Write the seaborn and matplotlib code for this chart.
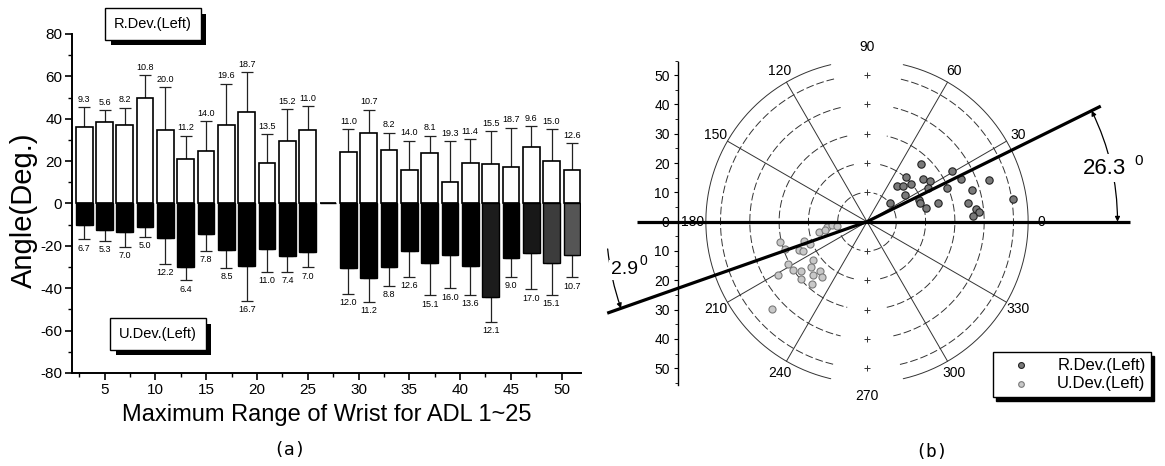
import numpy as np
import pandas as pd
import matplotlib
matplotlib.use("Agg")
import matplotlib.pyplot as plt
import matplotlib.patheffects as pe
from matplotlib.patches import FancyArrowPatch
import seaborn as sns

# ---------------- data: panel (a) ----------------
adl_x = [3, 5, 7, 9, 11, 13, 15, 17, 19, 21, 23, 25, 27,
         29, 31, 33, 35, 37, 39, 41, 43, 45, 47, 49, 51]
r_dev_mean = [36.2, 38.4, 37.1, 49.9, 34.8, 20.8, 24.9, 37.0, 43.3, 19.2, 29.3, 34.9, 0.0,
              24.1, 33.5, 25.3, 15.6, 23.9, 10.2, 19.0, 18.7, 17.1, 26.9, 20.2, 15.9]
r_dev_sd = [9.3, 5.6, 8.2, 10.8, 20.0, 11.2, 14.0, 19.6, 18.7, 13.5, 15.2, 11.0, np.nan,
            11.0, 10.7, 8.2, 14.0, 8.1, 19.3, 11.4, 15.5, 18.7, 9.6, 15.0, 12.6]
u_dev_mean = [-10.2, -12.4, -13.4, -10.9, -16.4, -29.9, -14.5, -22.0, -29.3, -21.4, -24.7, -23.1, 0.0,
              -30.5, -35.1, -30.0, -22.2, -28.3, -24.1, -29.7, -43.9, -25.8, -23.5, -28.0, -24.2]
u_dev_sd = [6.7, 5.3, 7.0, 5.0, 12.2, 6.4, 7.8, 8.5, 16.7, 11.0, 7.4, 7.0, np.nan,
            12.0, 11.2, 8.8, 12.6, 15.1, 16.0, 13.6, 12.1, 9.0, 17.0, 15.1, 10.7]
u_bar_colors = ['black'] * 20 + ['#1c1c1c', 'black', '#181818', '#3c3c3c', '#555555']
x_ticks = [5, 10, 15, 20, 25, 30, 35, 40, 45, 50]
y_ticks = [-80, -60, -40, -20, 0, 20, 40, 60, 80]

# ---------------- data: panel (b) ----------------
r_pts_angle = [46.9, 49.0, 50.4, 45.0, 40.5, 34.9, 38.2, 36.9, 32.7, 29.1, 22.8, 19.7,
               12.8, 14.9, 23.0, 30.8, 24.5, 16.9, 10.7, 6.9, 4.9, 3.0, 18.9, 8.7]
r_pts_radius = [27.2, 20.4, 15.8, 17.3, 19.7, 15.7, 10.2, 24.1, 25.5, 24.0, 19.3, 19.3,
                20.8, 24.9, 29.7, 33.8, 35.2, 37.4, 35.1, 37.4, 38.5, 36.3, 43.9, 50.3]
u_pts_angle = [191.8, 193.0, 198.6, 196.9, 201.3, 202.8, 204.2, 215.6, 219.0, 208.2, 213.2, 216.7,
               221.1, 224.5, 226.7, 230.9, 228.7, 210.8, 222.7, 187.0, 185.2, 188.3, 191.1]
u_pts_radius = [16.7, 30.3, 29.5, 22.4, 20.9, 25.1, 24.1, 22.5, 24.5, 30.5, 30.1, 28.1,
                30.0, 26.0, 23.3, 24.5, 28.3, 35.5, 44.1, 13.9, 12.1, 10.4, 14.6]
mean_angles = [26.3, 199.4]
mean_lengths = [89, 94]
mean_labels = ['26.3', '2.9']
grid_radii = [10, 20, 30, 40, 50]
outer_radius = 55
spoke_angles = [30, 60, 120, 150, 210, 240, 300, 330]
angle_labels = [0, 30, 60, 90, 120, 150, 180, 210, 240, 270, 300, 330]
polar_y_ticks = [-50, -40, -30, -20, -10, 0, 10, 20, 30, 40, 50]

# ---------------- style ----------------
sns.set_style("ticks")
plt.rcParams['font.family'] = ['Liberation Sans', 'DejaVu Sans']
plt.rcParams['axes.unicode_minus'] = False
for k in ['text.color', 'axes.labelcolor', 'xtick.color', 'ytick.color', 'axes.edgecolor']:
    plt.rcParams[k] = 'black'

W, H = 1165, 466
fig = plt.figure(figsize=(W / 100, H / 100), dpi=100)


def fx(px):
    return px / W


def fy(py):
    return 1 - py / H


# ================= panel (a) =================
ax = fig.add_axes([fx(72), fy(373), (581 - 72) / W, (373 - 34) / H])
df = pd.DataFrame({'adl': adl_x, 'r': r_dev_mean, 'u': u_dev_mean})
sns.barplot(data=df, x='adl', y='r', native_scale=True, width=0.82, color='white',
            saturation=1, edgecolor='black', linewidth=1.2, errorbar=None, ax=ax, zorder=2)
sns.barplot(data=df, x='adl', y='u', native_scale=True, width=0.82, color='black',
            saturation=1, edgecolor='black', linewidth=1.0, errorbar=None, ax=ax, zorder=2)
for patch, c in zip(ax.containers[1], u_bar_colors):
    patch.set_facecolor(c)

xa = np.array(adl_x, float)
rm, rs = np.array(r_dev_mean), np.array(r_dev_sd)
um, us = np.array(u_dev_mean), np.array(u_dev_sd)
ok = ~np.isnan(rs)
ax.errorbar(xa[ok], rm[ok], yerr=[np.zeros(ok.sum()), rs[ok]], fmt='none', ecolor='#222222',
            elinewidth=0.9, capsize=4.3, capthick=0.9, zorder=1)
ax.errorbar(xa[ok], um[ok], yerr=[us[ok], np.zeros(ok.sum())], fmt='none', ecolor='#222222',
            elinewidth=0.9, capsize=4.3, capthick=0.9, zorder=1)
for xi, m, s in zip(xa[ok], rm[ok], rs[ok]):
    ax.text(xi, m + s + 1.6, f"{s:.1f}", ha='center', va='bottom', fontsize=6.5)
for xi, m, s in zip(xa[ok], um[ok], us[ok]):
    ax.text(xi, m - s - 2.0, f"{s:.1f}", ha='center', va='top', fontsize=6.5)

ax.set_xlim(1.8, 51.9)
ax.set_ylim(-80, 80)
ax.set_xticks(x_ticks)
ax.set_xticklabels([str(t) for t in x_ticks])
ax.set_xticks(np.arange(2.5, 51, 5), minor=True)
ax.set_yticks(y_ticks)
ax.set_yticklabels([str(t) for t in y_ticks])
ax.set_yticks(np.arange(-70, 80, 20), minor=True)
ax.tick_params(which='major', length=5, width=1.2, labelsize=11, direction='out', pad=2)
ax.tick_params(which='minor', length=3, width=1.0, direction='out')
sns.despine(ax=ax)
for sp in ['left', 'bottom']:
    ax.spines[sp].set_linewidth(1.4)
ax.set_xlabel('Maximum Range of Wrist for ADL 1~25', fontsize=17)
ax.xaxis.set_label_coords(0.5, -0.09)
ax.set_ylabel('Angle(Deg.)', fontsize=21)
ax.yaxis.set_label_coords((38 - 72) / 509, 0.481)


def shadow_box(px, py, s):
    t = fig.text(fx(px), fy(py), s, ha='center', va='center', fontsize=10.5, color='black',
                 bbox=dict(boxstyle='square,pad=0.6', fc='white', ec='black', lw=1))
    t.get_bbox_patch().set_path_effects(
        [pe.SimplePatchShadow(offset=(4, -4), shadow_rgbFace='black', alpha=1.0), pe.Normal()])


shadow_box(153, 24, 'R.Dev.(Left)')
shadow_box(158, 334, 'U.Dev.(Left)')

# ================= panel (b) =================
S = 2.93
cx, cy = 867, 221.7
ax2 = fig.add_axes([fx(640), fy(440), 525 / W, 410 / H])
ax2.set_xlim((640 - cx) / S, (1165 - cx) / S)
ax2.set_ylim((cy - 440) / S, (cy - 30) / S)

half_gap = 13
seg1 = np.radians(np.linspace(-90 + half_gap, 90 - half_gap, 200))
seg2 = np.radians(np.linspace(90 + half_gap, 270 - half_gap, 200))
for rr in grid_radii + [outer_radius]:
    ls = '-' if rr == outer_radius else (0, (8, 3))
    for seg in (seg1, seg2):
        ax2.plot(rr * np.cos(seg), rr * np.sin(seg), color='#333333', lw=0.7, ls=ls, zorder=1)
for a in spoke_angles:
    t = np.radians(a)
    ax2.plot([0, outer_radius * np.cos(t)], [0, outer_radius * np.sin(t)],
             color='#333333', lw=0.7, zorder=1)
plus_r = np.array(grid_radii, float)
ax2.plot(np.zeros(len(plus_r) * 2), np.concatenate([plus_r, -plus_r]), ls='none',
         marker='+', ms=4, mew=0.7, color='#333333', zorder=1)

for a in angle_labels:
    t = np.radians(a)
    ax2.text(59.5 * np.cos(t), 59.5 * np.sin(t), str(a), ha='center', va='center',
             fontsize=10, zorder=2)

# thick reference line along 0/180 and mean direction lines
ax2.plot([-78.5, 89.8], [0, 0], color='black', lw=2.3, clip_on=False, zorder=5,
         solid_capstyle='butt')
for a, L in zip(mean_angles, mean_lengths):
    t = np.radians(a)
    ax2.plot([0, L * np.cos(t)], [0, L * np.sin(t)], color='black', lw=2.3,
             clip_on=False, zorder=5, solid_capstyle='butt')

# scatter points
rt = np.radians(r_pts_angle)
ut = np.radians(u_pts_angle)
rr_ = np.array(r_pts_radius)
ur_ = np.array(u_pts_radius)
sns.scatterplot(x=rr_ * np.cos(rt), y=rr_ * np.sin(rt), ax=ax2, s=28, color='#7a7a7a',
                edgecolor='#222222', linewidth=0.8, label='R.Dev.(Left)', zorder=4)
sns.scatterplot(x=ur_ * np.cos(ut), y=ur_ * np.sin(ut), ax=ax2, s=26, color='#c8c8c8',
                edgecolor='#7a7a7a', linewidth=0.8, label='U.Dev.(Left)', zorder=4)

# y axis of polar panel
ax2.spines['left'].set_position(('data', (678 - cx) / S))
ax2.spines['left'].set_bounds(-55.7, 54.6)
ax2.spines['left'].set_linewidth(1.0)
for sp in ['top', 'right', 'bottom']:
    ax2.spines[sp].set_visible(False)
ax2.set_xticks([])
ax2.set_yticks(polar_y_ticks)
ax2.set_yticklabels([str(abs(t)) for t in polar_y_ticks])
ax2.set_yticks(np.arange(-55, 56, 10), minor=True)
ax2.tick_params(axis='y', which='major', length=3, width=0.8, labelsize=10, pad=3)
ax2.tick_params(axis='y', which='minor', length=2, width=0.6)
ax2.set_xlabel('')
ax2.set_ylabel('')

# angle annotations
R1 = 85.5
t0, t1 = np.radians(mean_angles[0]), 0.0
arr1 = FancyArrowPatch((R1 * np.cos(t0), R1 * np.sin(t0)), (R1 * np.cos(t1), R1 * np.sin(t1)),
                       arrowstyle='<|-|>', mutation_scale=7,
                       connectionstyle='arc3,rad=-0.115', lw=0.9, color='black',
                       shrinkA=0, shrinkB=0, clip_on=False, zorder=6)
ax2.add_patch(arr1)
ax2.text((1104 - cx) / S, (cy - 168) / S, mean_labels[0], ha='center',
         va='center', fontsize=16, zorder=7,
         bbox=dict(boxstyle='square,pad=0.15', fc='white', ec='none'))
ax2.text((1138.5 - cx) / S, (cy - 161) / S, '0', ha='center', va='center', fontsize=11, zorder=7)

R2 = 89
ta, tb = np.radians(186), np.radians(mean_angles[1])
arr2 = FancyArrowPatch((R2 * np.cos(ta), R2 * np.sin(ta)), (R2 * np.cos(tb), R2 * np.sin(tb)),
                       arrowstyle='-|>', mutation_scale=7,
                       connectionstyle='arc3,rad=0.0585', lw=0.9, color='black',
                       shrinkA=0, shrinkB=0, clip_on=False, zorder=6)
ax2.add_patch(arr2)
ax2.text((624 - cx) / S, (cy - 270) / S, mean_labels[1], ha='center', va='center', fontsize=14,
         zorder=7, bbox=dict(boxstyle='square,pad=0.1', fc='white', ec='none'))
ax2.text((643 - cx) / S, (cy - 261) / S, '0', ha='center', va='center', fontsize=10, zorder=7)

leg = ax2.legend(loc='upper left', bbox_to_anchor=(fx(993), fy(352)),
                 bbox_transform=fig.transFigure, fontsize=12, frameon=True, fancybox=False,
                 edgecolor='black', framealpha=1, borderaxespad=0, borderpad=0.35,
                 handlelength=2.6, handletextpad=0.9, labelspacing=0.2, markerscale=0.8,
                 shadow={'ox': 2, 'oy': -3, 'facecolor': 'black', 'edgecolor': 'black',
                         'alpha': 1})
leg.get_frame().set_linewidth(1.0)

fig.text(fx(290), fy(450), '(a)', ha='center', va='center', fontsize=13,
         family='DejaVu Sans Mono')
fig.text(fx(932), fy(452), '(b)', ha='center', va='center', fontsize=13,
         family='DejaVu Sans Mono')

fig.savefig('out.png', dpi=100)
